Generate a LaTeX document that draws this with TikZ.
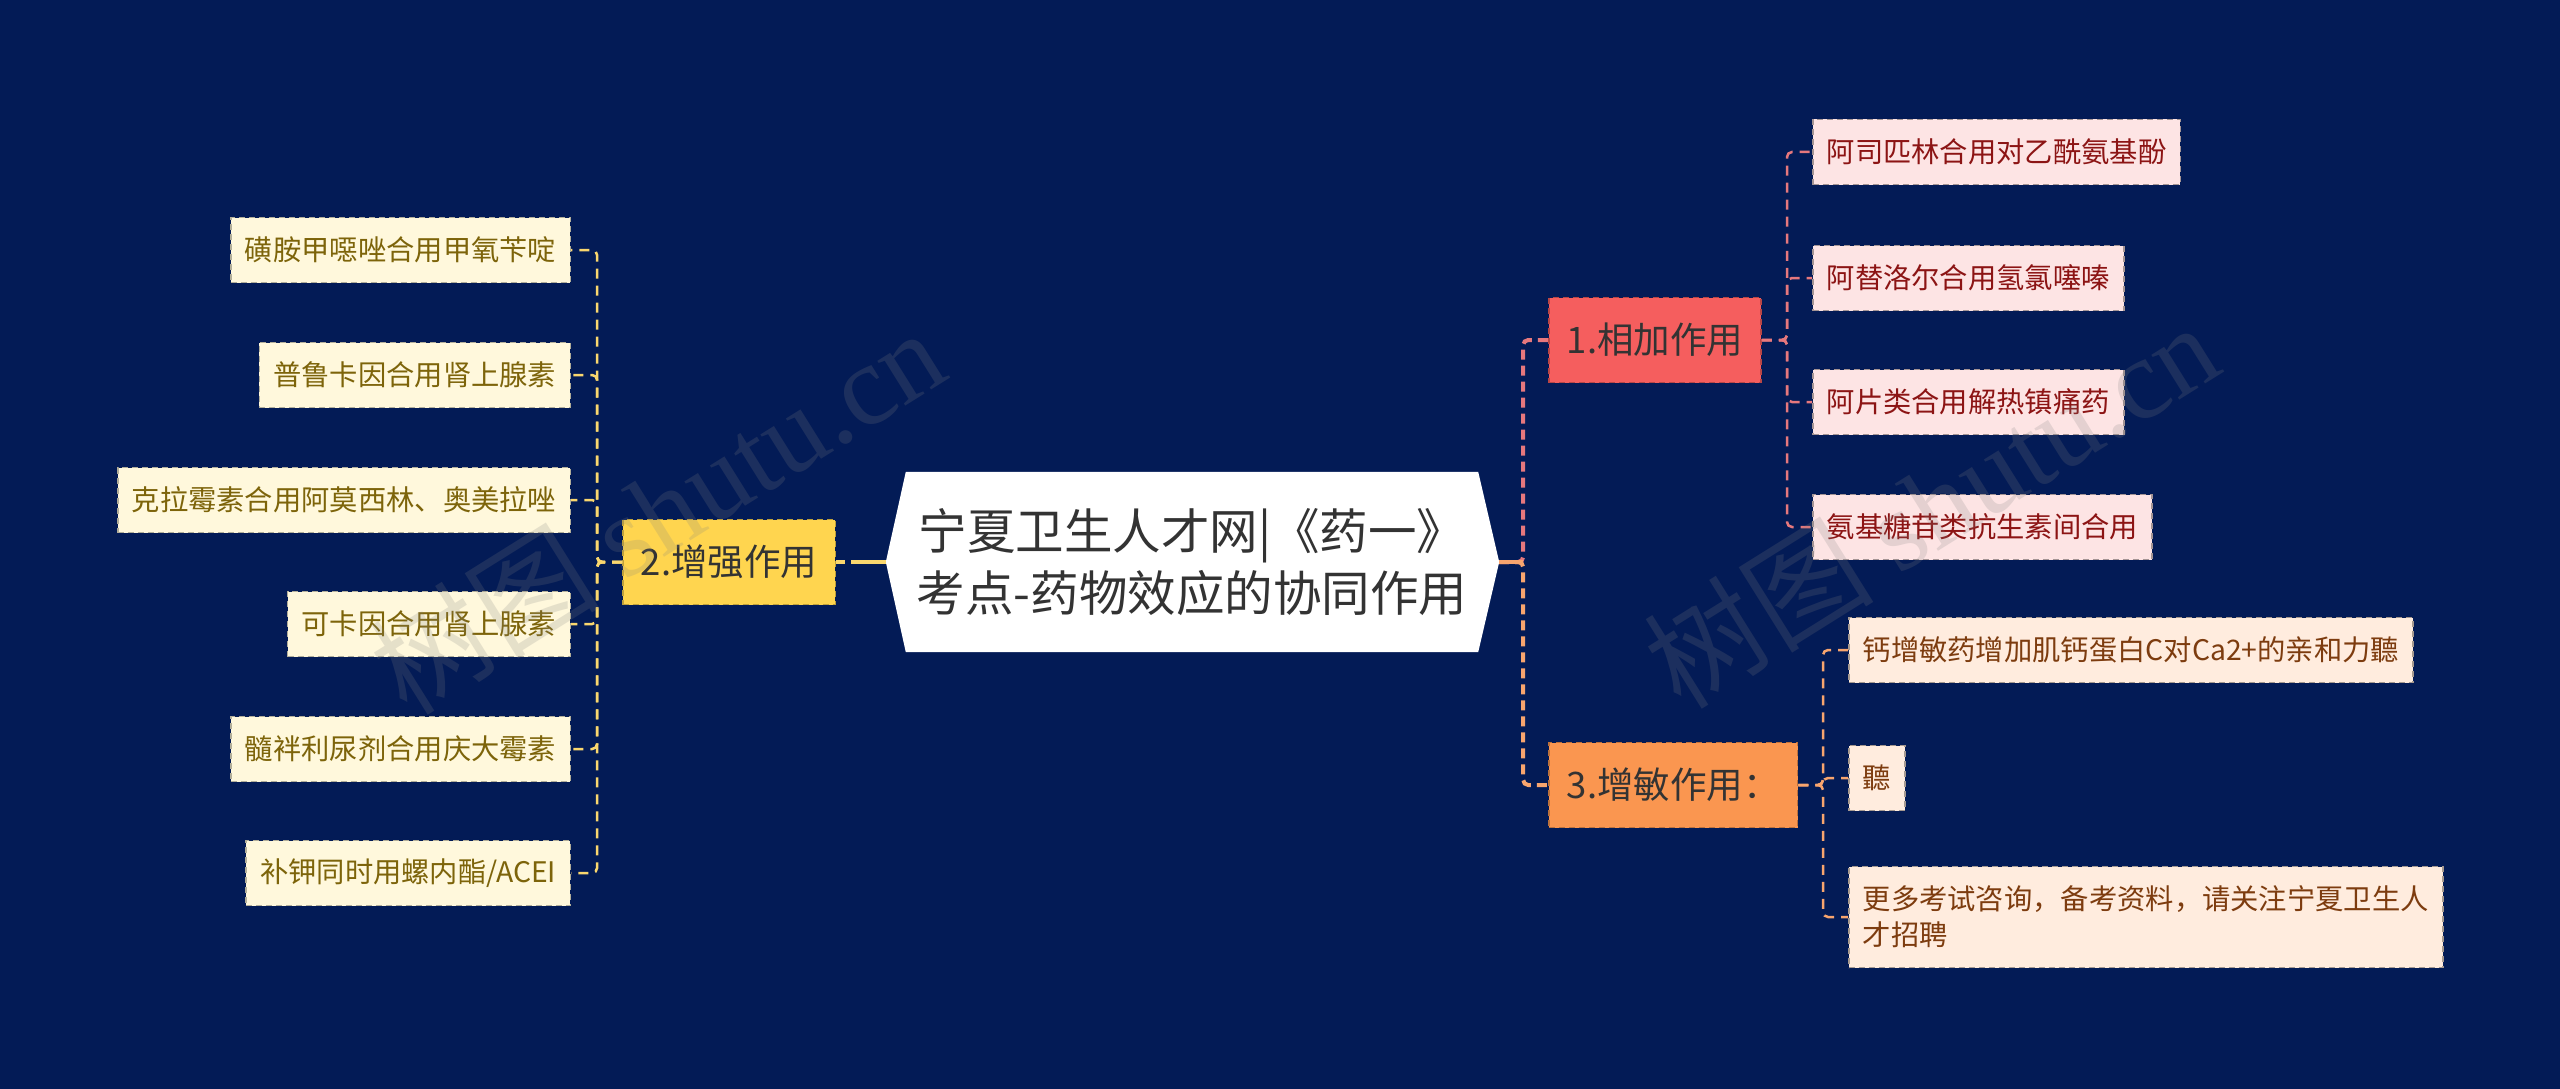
\documentclass[tikz,border=0pt]{standalone}
\usepackage{fontspec}
\setmainfont{Noto Sans CJK SC}
\newfontfamily\wmlatin{Liberation Serif}
\usetikzlibrary{calc}
\pgfdeclarelayer{bglayer}
\pgfdeclarelayer{hexlayer}
\pgfsetlayers{bglayer,hexlayer,main}
\definecolor{bgnavy}{RGB}{3,27,86}
\definecolor{txtdark}{RGB}{51,51,51}
\definecolor{ylw}{RGB}{255,213,79}
\definecolor{ylwline}{RGB}{250,215,110}
\definecolor{cream}{RGB}{255,248,220}
\definecolor{olive}{RGB}{125,100,10}
\definecolor{redtopic}{RGB}{245,94,94}
\definecolor{pinkfill}{RGB}{253,228,228}
\definecolor{darkred}{RGB}{140,20,20}
\definecolor{pinkline}{RGB}{230,120,125}
\definecolor{orangetopic}{RGB}{250,150,80}
\definecolor{peach}{RGB}{255,236,222}
\definecolor{brownleaf}{RGB}{125,60,15}
\definecolor{orangeline}{RGB}{248,165,110}
\begin{document}
\begin{tikzpicture}[x=1pt,y=-1pt,
  rootbox/.style={rectangle, minimum width=572pt, minimum height=180pt, inner sep=0pt, align=center, text=txtdark, font=\fontsize{48.5pt}{62pt}\selectfont},
  topicbox/.style={rectangle, line width=1.5pt, dash pattern=on 6pt off 4pt, inner xsep=18pt, inner ysep=0pt, minimum height=85pt, text=txtdark, font=\fontsize{36.5pt}{44pt}\selectfont},
  topicY/.style={topicbox, fill=ylw, draw=ylw!75!black},
  topicR/.style={topicbox, fill=redtopic, draw=redtopic!75!black},
  topicO/.style={topicbox, fill=orangetopic, draw=orangetopic!75!black},
  leafbox/.style={rectangle, line width=1.5pt, dash pattern=on 6pt off 4pt, inner xsep=14pt, inner ysep=0pt, minimum height=65pt, font=\fontsize{28.3pt}{36pt}\selectfont},
  leafY/.style={leafbox, fill=cream, draw=cream!70!black, text=olive, anchor=east},
  leafR/.style={leafbox, fill=pinkfill, draw=pinkfill!65!black, text=darkred, anchor=west},
  leafO/.style={leafbox, fill=peach, draw=peach!65!black, text=brownleaf, anchor=west, align=left},
  thicklink/.style={line width=4pt, dash pattern=on 10pt off 6pt, rounded corners=5pt},
  thinlink/.style={line width=2.5pt, dash pattern=on 10pt off 7pt, rounded corners=5pt},
  wmark/.style={text=gray, opacity=0.2, rotate=32, font=\fontsize{115pt}{115pt}\selectfont}
]
\begin{pgfonlayer}{bglayer}
\fill[bgnavy] (0,0) rectangle (2560,1089);
\end{pgfonlayer}
\useasboundingbox (0,0) rectangle (2560,1089);

% root
\node[rootbox] (root) at (1192,562) {宁夏卫生人才网|《药一》\\考点-药物效应的协同作用};
\coordinate (tipL) at ($(root.west)+(-20,0)$);
\coordinate (tipR) at ($(root.east)+(21,0)$);
\begin{pgfonlayer}{hexlayer}
\fill[white] (root.north west) -- (root.north east) -- (tipR) -- (root.south east) -- (root.south west) -- (tipL) -- cycle;
\end{pgfonlayer}

% topics
\node[topicY, anchor=east] (n2) at (836,562) {2.增强作用};
\node[topicR, anchor=west] (n1) at (1548,340) {1.相加作用};
\node[topicO, anchor=west] (n3) at (1548,785) {3.增敏作用：};

% left leaves
\node[leafY] (l1) at (571,250) {磺胺甲噁唑合用甲氧苄啶};
\node[leafY] (l2) at (571,375) {普鲁卡因合用肾上腺素};
\node[leafY] (l3) at (571,500) {克拉霉素合用阿莫西林、奥美拉唑};
\node[leafY] (l4) at (571,624) {可卡因合用肾上腺素};
\node[leafY] (l5) at (571,749) {髓袢利尿剂合用庆大霉素};
\node[leafY] (l6) at (571,873) {补钾同时用螺内酯/ACEI};

% right leaves
\node[leafR] (r1) at (1812,152) {阿司匹林合用对乙酰氨基酚};
\node[leafR] (r2) at (1812,278) {阿替洛尔合用氢氯噻嗪};
\node[leafR] (r3) at (1812,402) {阿片类合用解热镇痛药};
\node[leafR] (r4) at (1812,527) {氨基糖苷类抗生素间合用};
\node[leafO] (s1) at (1848,650) {钙增敏药增加肌钙蛋白C对Ca2+的亲和力聽};
\node[leafO] (s2) at (1848,778) {聽};
\node[leafO, minimum height=101pt] (s3) at (1848,917) {更多考试咨询，备考资料，请关注宁夏卫生人\\才招聘};

% bus points
\coordinate (busL) at ($(n2.west)+(-25,0)$);
\coordinate (busR) at ($(tipR)+(24,0)$);
\coordinate (bus1) at (1787,340);
\coordinate (bus3) at (1823,785);

% connectors left
\draw[ylwline, line width=4pt, dash pattern=on 35pt off 6pt on 30pt] (tipL) -- (n2.east);
\foreach \k in {l1,l2,l3,l4,l5,l6}
  \draw[ylwline, thinlink] (n2.west) -- (busL) |- (\k.east);

% connectors right
\draw[pinkline, thicklink] (tipR) -- (busR) |- (n1.west);
\draw[orangeline, thicklink] (tipR) -- (busR) |- (n3.west);
\draw[orangeline, line width=4pt] (tipR) -- (busR);
\foreach \k in {r1,r2,r3,r4}
  \draw[pinkline, thinlink] (n1.east) -- (bus1) |- (\k.west);
\foreach \k in {s1,s2,s3}
  \draw[orangeline, thinlink] (n3.east) -- (bus3) |- (\k.west);

% watermarks
\node[wmark] (wm1) at (657,510) {树图 {\wmlatin shutu.cn}};
\node[wmark] (wm2) at (1931,504) {树图 {\wmlatin shutu.cn}};
\end{tikzpicture}
\end{document}
